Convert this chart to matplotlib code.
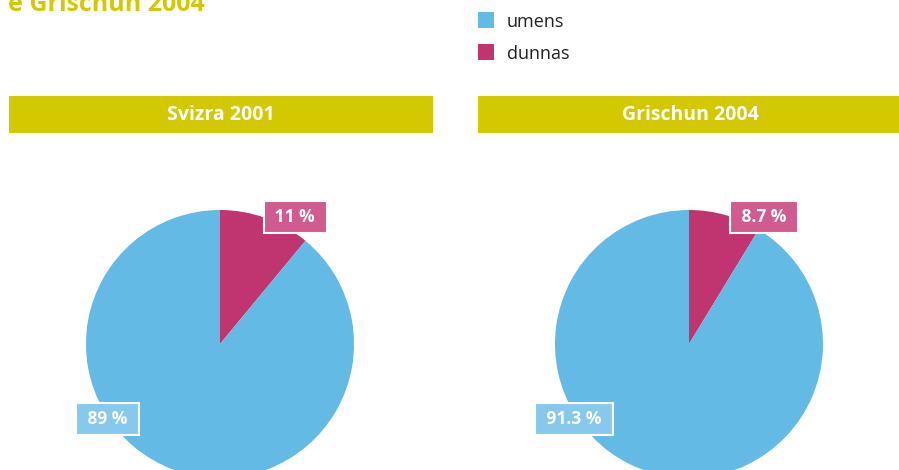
import matplotlib.pyplot as plt
from matplotlib.patches import Rectangle

# shares of men / women
regions = ['Svizra 2001', 'Grischun 2004']
umens = [89, 91.3]
dunnas = [11, 8.7]
legend_labels = ['umens', 'dunnas']

blue = '#63bae5'
pink = '#c0346f'
blue_box = '#86c9ec'
pink_box = '#cf5b8f'
yellow = '#d4c800'

W, H = 899, 470
fig = plt.figure(figsize=(W/100, H/100), dpi=100)
plt.rcParams['font.family'] = ['Open Sans', 'DejaVu Sans']

bg = fig.add_axes([0, 0, 1, 1])
bg.set_xlim(0, W)
bg.set_ylim(H, 0)
bg.axis('off')

# title (partly off the top)
bg.text(8, 11, 'e Grischun 2004', color=yellow, fontsize=18, fontweight='bold',
        ha='left', va='baseline')

# legend
for i, (lab, col) in enumerate(zip(legend_labels, [blue, pink])):
    y = 12 + i*32
    bg.add_patch(Rectangle((478, y), 16, 16, color=col, lw=0))
    bg.text(507, y + 10, lab, fontsize=13, va='center', ha='left', color='#222222')

# header bars
bars_x = [9, 478]
for x, name in zip(bars_x, regions):
    bg.add_patch(Rectangle((x, 96), 424, 37, color=yellow, lw=0))
    bg.text(x + 212, 115, name, color='white', fontsize=14, fontweight='bold',
            ha='center', va='center')

centers = [220, 689]
r = 134
cy = 344
# label positions in pie units (radius 1)
small_pos = [(0.56, 0.95), (0.56, 0.95)]
big_pos = [(-0.84, -0.56), (-0.86, -0.56)]

for i in range(2):
    ax = fig.add_axes([(centers[i] - r)/W, (H - cy - r)/H, 2*r/W, 2*r/H])
    ax.pie([dunnas[i], umens[i]], colors=[pink, blue], startangle=90,
           counterclock=False, radius=1, wedgeprops=dict(lw=0))
    ax.set_xlim(-1, 1)
    ax.set_ylim(-1, 1)
    ax.set_aspect('equal')
    ax.text(*small_pos[i], f' {dunnas[i]:g} % ', color='white', fontsize=12.5,
            fontweight='bold', ha='center', va='center',
            bbox=dict(boxstyle='square,pad=0.4', fc=pink_box, ec='white', lw=1.5))
    ax.text(*big_pos[i], f' {umens[i]:g} % ', color='white', fontsize=12.5,
            fontweight='bold', ha='center', va='center',
            bbox=dict(boxstyle='square,pad=0.4', fc=blue_box, ec='white', lw=1.5))
    for t in ax.texts:
        t.set_clip_on(False)

fig.savefig('out.png', dpi=100)
